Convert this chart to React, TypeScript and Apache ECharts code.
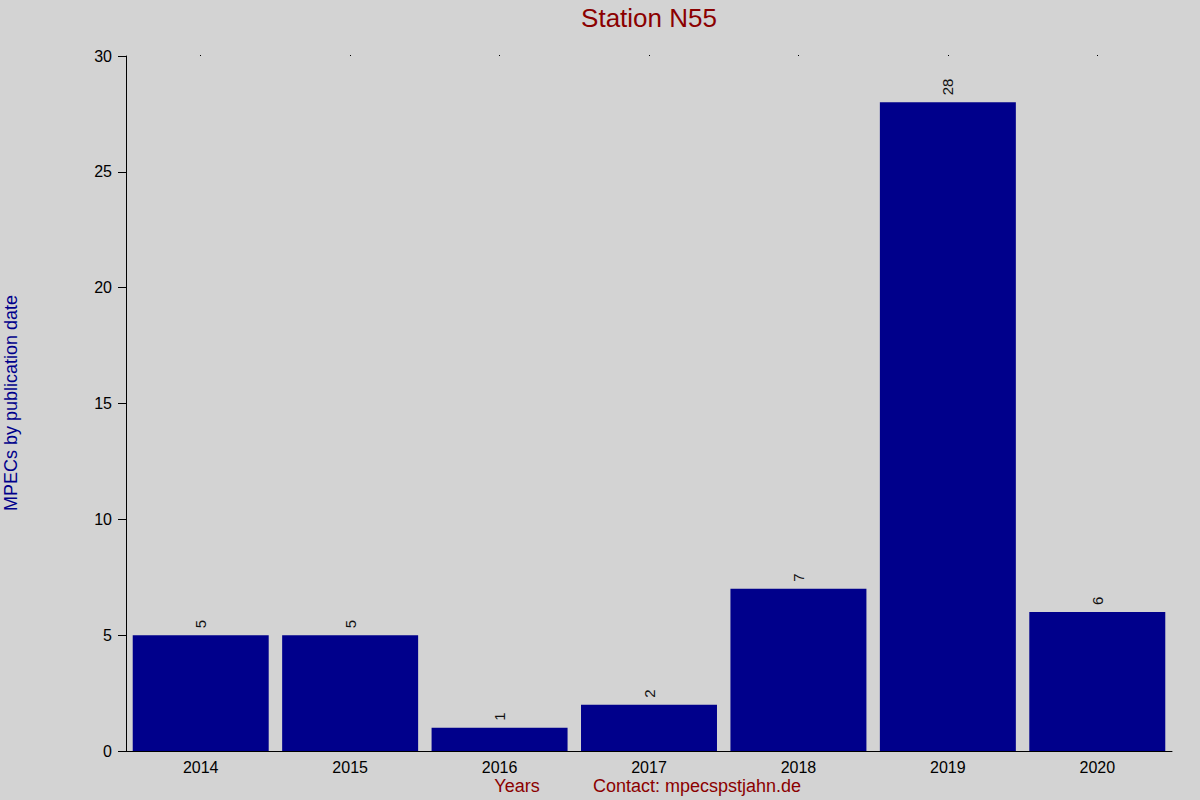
import React, { useEffect, useRef } from 'react';
import * as echarts from 'echarts';

const years = ['2014', '2015', '2016', '2017', '2018', '2019', '2020'];
const mpecs = [5, 5, 1, 2, 7, 28, 6];

const App: React.FC = () => {
  const chartRef = useRef<HTMLDivElement>(null);

  useEffect(() => {
    if (!chartRef.current) return;
    document.body.style.margin = '0';

    const chart = echarts.init(chartRef.current, undefined, { renderer: 'svg' });
    const font = 'Liberation Sans, Arial, sans-serif';

    const option: echarts.EChartsOption = {
      animation: false,
      backgroundColor: '#d3d3d3',
      textStyle: { fontFamily: font },
      grid: { left: 126, right: 28, top: 56, bottom: 49 },
      graphic: [
        {
          type: 'text',
          x: 649,
          y: 18,
          style: {
            text: 'Station N55',
            fill: '#8b0000',
            font: `26px ${font}`,
            textAlign: 'center',
            textVerticalAlign: 'middle'
          }
        },
        {
          type: 'text',
          x: 11,
          y: 403,
          rotation: Math.PI / 2,
          style: {
            text: 'MPECs by publication date',
            fill: '#00008b',
            font: `18px ${font}`,
            textAlign: 'center',
            textVerticalAlign: 'middle'
          }
        },
        {
          type: 'text',
          x: 517,
          y: 786,
          style: {
            text: 'Years',
            fill: '#8b0000',
            font: `18px ${font}`,
            textAlign: 'center',
            textVerticalAlign: 'middle'
          }
        },
        {
          type: 'text',
          x: 697,
          y: 786,
          style: {
            text: 'Contact: mpecspstjahn.de',
            fill: '#8b0000',
            font: `18px ${font}`,
            textAlign: 'center',
            textVerticalAlign: 'middle'
          }
        }
      ],
      xAxis: [
        {
          type: 'category',
          data: years,
          axisLine: { lineStyle: { color: '#000', width: 1 } },
          axisTick: { show: false },
          axisLabel: { color: '#000', fontSize: 16, margin: 8 }
        },
        {
          type: 'category',
          data: years,
          position: 'top',
          axisLine: { show: false },
          axisTick: { show: true, alignWithLabel: true, length: 1, lineStyle: { color: '#000' } },
          axisLabel: { show: false }
        }
      ],
      yAxis: {
        type: 'value',
        min: 0,
        max: 30,
        interval: 5,
        splitLine: { show: false },
        axisLine: { show: true, lineStyle: { color: '#000', width: 1 } },
        axisTick: { show: true, length: 8, lineStyle: { color: '#000' } },
        axisLabel: { color: '#000', fontSize: 16, margin: 14 }
      },
      series: [
        {
          type: 'bar',
          data: mpecs,
          barCategoryGap: '9%',
          itemStyle: { color: '#00008b' },
          label: {
            show: true,
            position: 'top',
            rotate: 90,
            align: 'left',
            verticalAlign: 'middle',
            distance: 7,
            color: '#111',
            fontSize: 15
          }
        }
      ]
    };

    chart.setOption(option);

    return () => {
      chart.dispose();
    };
  }, []);

  return <div ref={chartRef} style={{ width: '1200px', height: '800px' }} />;
};

export default App;
